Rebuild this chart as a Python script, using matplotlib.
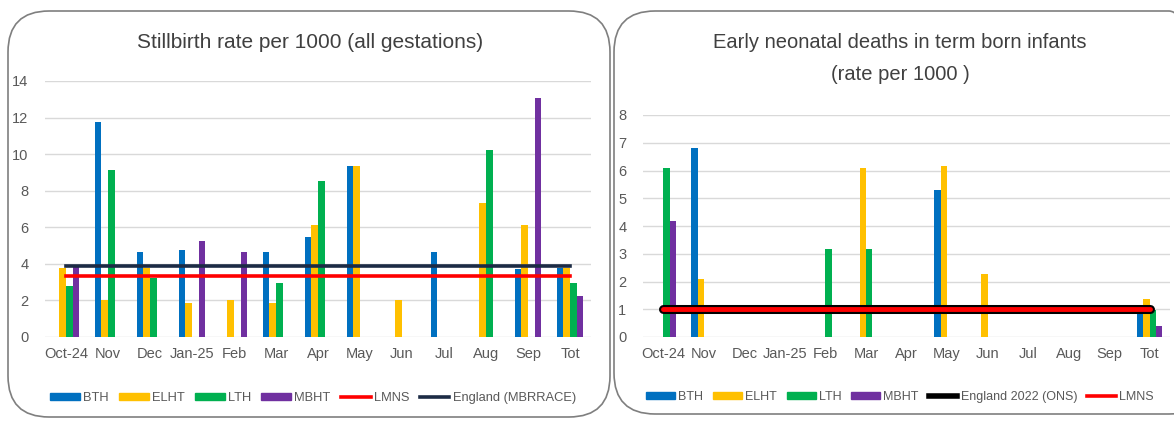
import numpy as np
import matplotlib
matplotlib.use("Agg")
import matplotlib.pyplot as plt
from matplotlib.patches import FancyBboxPatch, Patch
from matplotlib.lines import Line2D

plt.rcParams['font.family'] = ['Liberation Sans', 'DejaVu Sans']

# -------------------------------------------------------
# Datos
# -------------------------------------------------------
meses = ["Oct-24", "Nov", "Dec", "Jan-25", "Feb", "Mar", "Apr",
         "May", "Jun", "Jul", "Aug", "Sep", "Tot"]

# Stillbirth rate per 1000 (all gestations)
sb_bth  = [0.0, 11.75, 4.65, 4.75, 0.0, 4.65, 5.45, 9.35, 0.0, 4.65, 0.0, 3.7, 3.75]
sb_elht = [3.8, 2.0, 3.8, 1.85, 2.05, 1.85, 6.15, 9.35, 2.05, 0.0, 7.35, 6.1, 3.75]
sb_lth  = [2.8, 9.15, 3.2, 0.0, 0.0, 2.95, 8.55, 0.0, 0.0, 0.0, 10.25, 0.0, 2.95]
sb_mbht = [3.85, 0.0, 0.0, 5.25, 4.65, 0.0, 0.0, 0.0, 0.0, 0.0, 0.0, 13.05, 2.25]
sb_lmns = 3.35
sb_england = 3.86

# Early neonatal deaths in term born infants (rate per 1000)
en_bth  = [0.0, 6.8, 0, 0, 0, 0.0, 0, 5.3, 0.0, 0, 0, 0, 0.95]
en_elht = [0.0, 2.1, 0, 0, 0, 6.08, 0, 6.18, 2.28, 0, 0, 0, 1.38]
en_lth  = [6.08, 0.0, 0, 0, 3.17, 3.17, 0, 0.0, 0.0, 0, 0, 0, 0.98]
en_mbht = [4.18, 0.0, 0, 0, 0, 0.0, 0, 0.0, 0.0, 0, 0, 0, 0.38]
en_england = 1.0
en_lmns = 1.0

C_BTH = "#0070C0"
C_ELHT = "#FFC000"
C_LTH = "#00B050"
C_MBHT = "#7030A0"
C_RED = "#FF0000"
C_NAVY = "#1C2B45"
C_TXT = "#595959"
C_GRID = "#D9D9D9"

W, H = 1174, 421
fig = plt.figure(figsize=(W / 100, H / 100), dpi=100)


def caja(x0, y0, x1, y1):
    # marco redondeado de cada grafico (coordenadas en pixeles)
    p = FancyBboxPatch((x0 / W, 1 - y1 / H), (x1 - x0) / W, (y1 - y0) / H,
                       boxstyle="round,pad=0,rounding_size=0.035",
                       transform=fig.transFigure, fill=False,
                       edgecolor="#7F7F7F", linewidth=1.2, mutation_aspect=W / H)
    fig.patches.append(p)


def ejes(x0, y0, x1, y1):
    return fig.add_axes([x0 / W, 1 - y1 / H, (x1 - x0) / W, (y1 - y0) / H])


def barras(ax, series, colores, ymax, paso):
    x = np.arange(len(meses))
    w = 0.155
    for k, (vals, col) in enumerate(zip(series, colores)):
        ax.bar(x + (k - 1.5) * w, vals, width=w, color=col, zorder=2)
    ax.set_xlim(-0.5, len(meses) - 0.5)
    ax.set_ylim(0, ymax)
    ax.set_yticks(np.arange(0, ymax + 0.1, paso))
    ax.set_xticks(x)
    ax.set_xticklabels(meses)
    ax.tick_params(length=0, colors=C_TXT, labelsize=10.5)
    ax.tick_params(axis="y", pad=12)
    ax.tick_params(axis="x", pad=7)
    ax.grid(axis="y", color=C_GRID, linewidth=1, zorder=0)
    for s in ax.spines.values():
        s.set_visible(False)
    ax.set_facecolor("none")
    return x


def leyenda(handles, cx, cy, tam):
    leg = fig.legend(handles=handles, loc="center", bbox_to_anchor=(cx / W, 1 - cy / H),
                     ncol=6, frameon=False, fontsize=tam, handlelength=2.3,
                     handleheight=0.55, columnspacing=0.8, handletextpad=0.25)
    for t in leg.get_texts():
        t.set_color(C_TXT)


caja(8, 11, 610, 417)
caja(614, 11, 1210, 414)

# ---------------- grafico 1 ----------------
ax1 = ejes(45, 81, 591, 337)
x = barras(ax1, [sb_bth, sb_elht, sb_lth, sb_mbht],
           [C_BTH, C_ELHT, C_LTH, C_MBHT], 14, 2)
ax1.plot(x, [sb_england] * len(x), color=C_NAVY, linewidth=2.6, zorder=3)
ax1.plot(x, [sb_lmns] * len(x), color=C_RED, linewidth=2.6, zorder=3)
fig.text(310 / W, 1 - 42 / H, "Stillbirth rate per 1000 (all gestations)",
         ha="center", va="center", fontsize=15, color="#404040")

h1 = [Patch(color=C_BTH, label="BTH"), Patch(color=C_ELHT, label="ELHT"),
      Patch(color=C_LTH, label="LTH"), Patch(color=C_MBHT, label="MBHT"),
      Line2D([], [], color=C_RED, linewidth=2.6, label="LMNS"),
      Line2D([], [], color=C_NAVY, linewidth=2.6, label="England (MBRRACE)")]
leyenda(h1, 313, 398, 9.3)

# ---------------- grafico 2 ----------------
ax2 = ejes(643, 115, 1170, 337)
x = barras(ax2, [en_bth, en_elht, en_lth, en_mbht],
           [C_BTH, C_ELHT, C_LTH, C_MBHT], 8, 1)
ax2.plot(x, [en_england] * len(x), color="black", linewidth=6.5,
         solid_capstyle="round", zorder=3)
ax2.plot(x, [en_lmns] * len(x), color=C_RED, linewidth=3.5,
         solid_capstyle="round", zorder=4)
fig.text(900 / W, 1 - 42 / H, "Early neonatal deaths in term born infants",
         ha="center", va="center", fontsize=14.5, color="#404040")
fig.text(900 / W, 1 - 75 / H, "(rate per 1000 )",
         ha="center", va="center", fontsize=14.5, color="#404040")

h2 = [Patch(color=C_BTH, label="BTH"), Patch(color=C_ELHT, label="ELHT"),
      Patch(color=C_LTH, label="LTH"), Patch(color=C_MBHT, label="MBHT"),
      Line2D([], [], color="black", linewidth=4, label="England 2022 (ONS)"),
      Line2D([], [], color=C_RED, linewidth=2.6, label="LMNS")]
leyenda(h2, 900, 397, 9)

fig.savefig("out.png", dpi=100)
